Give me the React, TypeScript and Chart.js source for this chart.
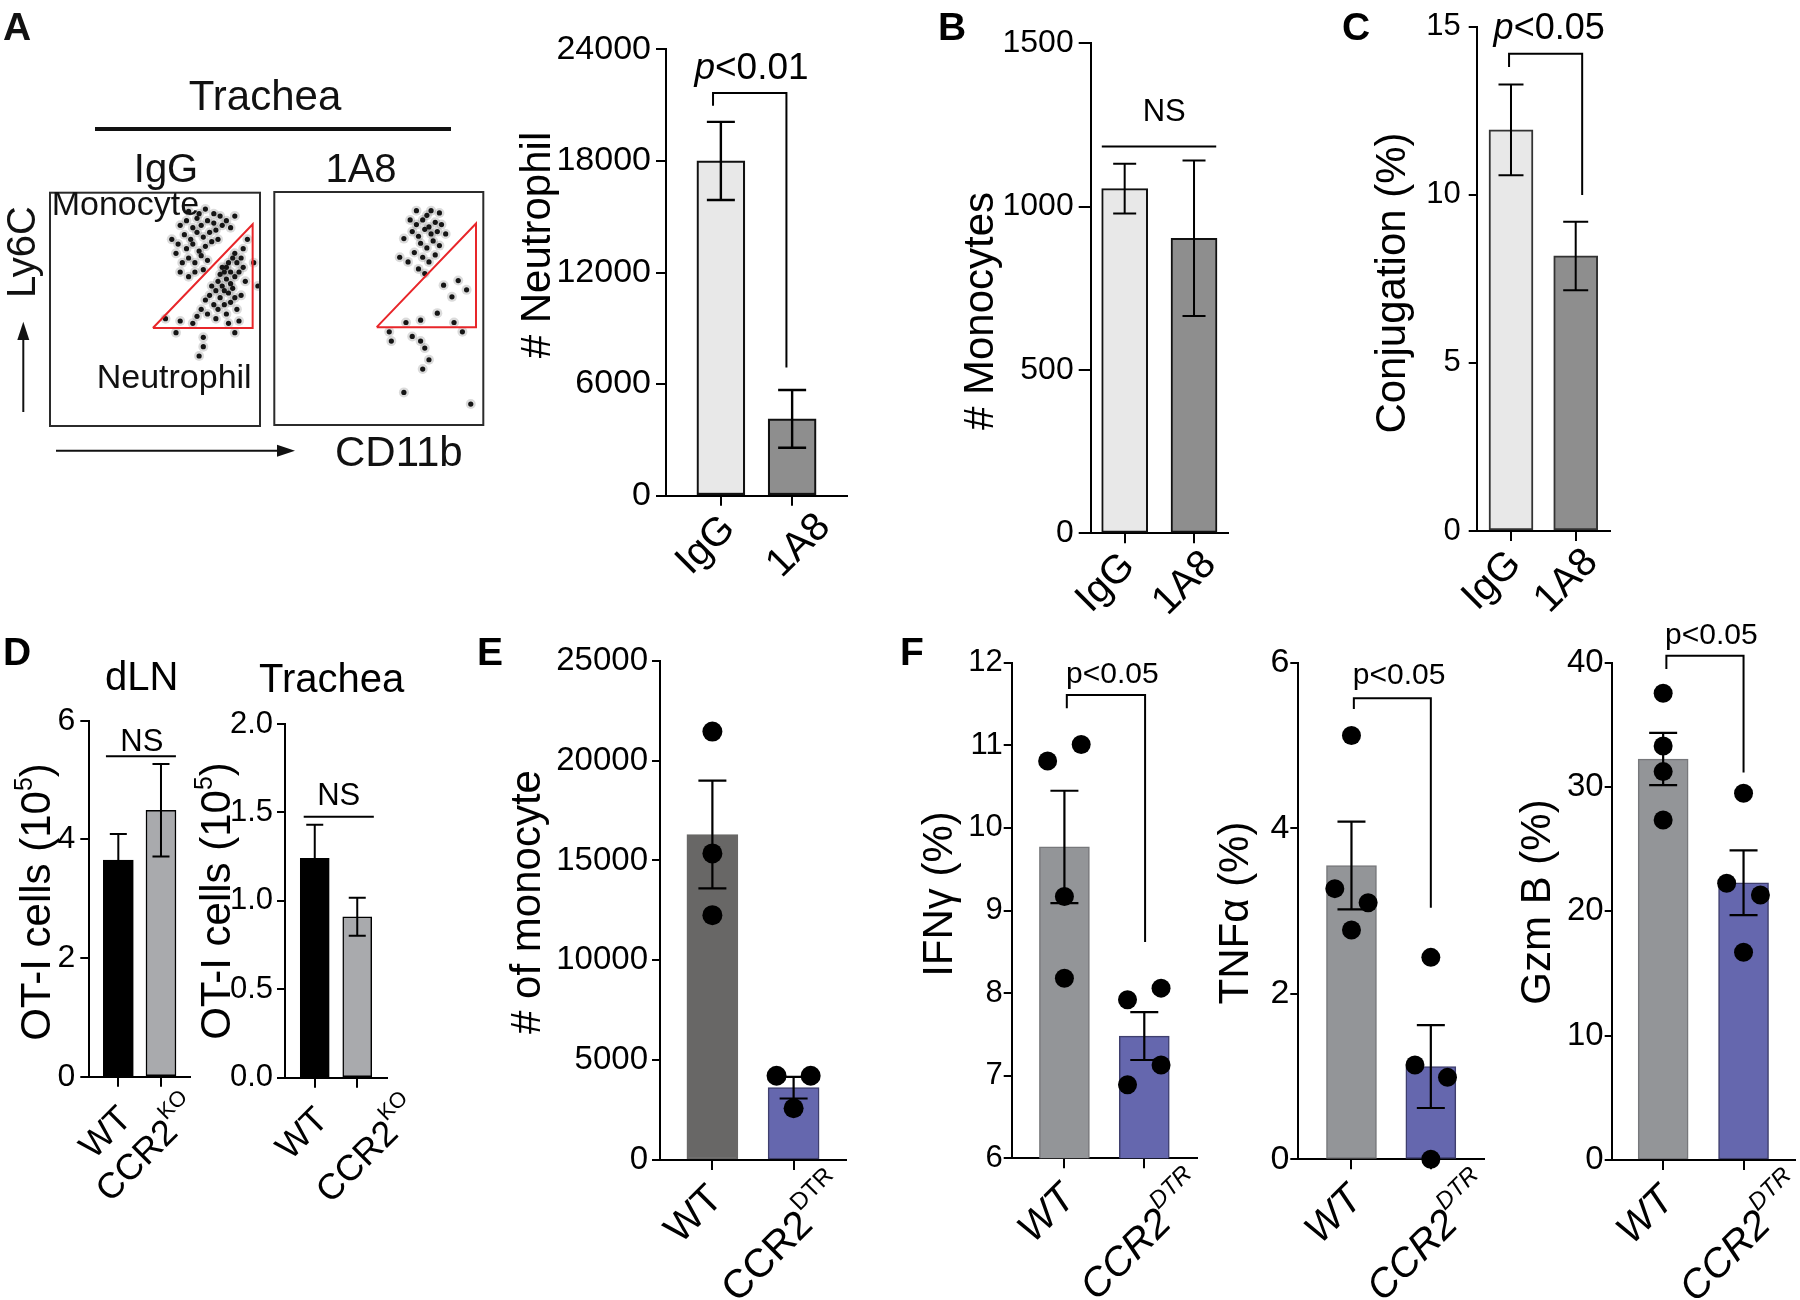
import React, { useEffect, useRef } from 'react';
import { Chart, registerables } from 'chart.js';

Chart.register(...registerables);

const FONT = '"Liberation Sans", Arial, Helvetica, sans-serif';
const W = 1800;
const H = 1300;

// ---------------- DATA ----------------
// Panel A – flow plots (CD11b vs Ly6C, arbitrary 0-100 units)
const gateX = [49, 96.5, 96.5, 49];
const gateY = [42, 86.5, 42, 42];
const iggDotX = [62, 65, 68, 70, 72, 75, 78, 64, 67, 70, 73, 76, 79, 82, 61, 65, 68, 71, 74, 77, 80, 66, 69, 72, 75, 63, 60, 58, 84, 86, 88, 71, 66, 74, 78, 81, 69, 73, 62, 66,
  80, 82, 84, 86, 83, 85, 87, 81, 79, 88, 90, 86, 84, 89, 91, 92, 78, 80, 83, 86, 88, 76, 74, 72, 70, 75, 79, 84, 89, 91, 93, 68, 62, 85, 90, 77, 81, 87, 92, 94, 83, 85, 88, 82,
  73, 73, 71, 88, 60, 55, 97, 99];
const iggDotY = [86, 88, 85, 89, 86, 88, 87, 82, 80, 83, 81, 83, 84, 86, 78, 76, 78, 75, 77, 79, 80, 72, 70, 73, 71, 70, 74, 80, 88, 85, 90, 91, 92, 93, 91, 90, 66, 67, 66, 64,
  62, 60, 63, 61, 58, 57, 59, 55, 58, 64, 66, 66, 68, 70, 72, 68, 52, 50, 52, 53, 55, 56, 54, 50, 47, 48, 46, 48, 50, 56, 62, 44, 45, 44, 45, 60, 65, 72, 76, 80, 66, 70, 74, 68,
  38, 34, 30, 40, 40, 46, 70, 60];
const a18DotX = [65, 68, 71, 74, 77, 80, 66, 69, 72, 75, 78, 70, 73, 76, 79, 67, 71, 74, 77, 69, 72, 62, 60, 64, 82, 75, 79, 68, 73,
  81, 88, 85, 78, 92, 70, 63, 70, 72, 74, 71, 66, 62, 94, 55, 56, 86, 90];
const a18DotY = [88, 86, 88, 85, 87, 86, 83, 81, 84, 82, 83, 78, 76, 79, 77, 74, 72, 70, 73, 67, 65, 80, 72, 70, 82, 92, 91, 92, 90,
  60, 62, 55, 48, 58, 45, 44, 36, 33, 28, 24, 38, 14, 9, 40, 36, 44, 40];

// Panel A – neutrophil counts
const treatGroups = ['IgG', '1A8'];
const neutrophilMean = [18000, 4130];
const neutrophilSem = [2100, 1550];
const neutrophilTicks = [0, 6000, 12000, 18000, 24000];

// Panel B – monocytes
const monocyteMean = [1055, 903];
const monocyteSem = [76, 238];
const monocyteTicks = [0, 500, 1000, 1500];

// Panel C – conjugation
const conjugationMean = [11.93, 8.18];
const conjugationSem = [1.35, 1.02];
const conjugationTicks = [0, 5, 10, 15];

// Panel D – OT-I cells
const koGroups = ['WT', 'CCR2'];
const koSups = ['', 'KO'];
const otDlnMean = [3.65, 4.49];
const otDlnSem = [0.44, 0.78];
const otDlnTicks = [0, 2, 4, 6];
const otTracheaMean = [1.24, 0.91];
const otTracheaSem = [0.19, 0.108];
const otTracheaTicks = [0, 0.5, 1, 1.5, 2];

// Panel E – monocytes
const dtrGroups = ['WT', 'CCR2'];
const dtrSups = ['', 'DTR'];
const monoEMean = [16300, 3620];
const monoESem = [2700, 540];
const monoEWt = [21450, 15350, 12260];
const monoEDtr = [4220, 4220, 2590];
const monoEWtJitter = [0, 0, 0];
const monoEDtrJitter = [-0.21, 0.21, 0];
const monoETicks = [0, 5000, 10000, 15000, 20000, 25000];

// Panel F – IFNγ, TNFα, Gzm B
const ifnMean = [9.77, 7.48];
const ifnSem = [0.68, 0.29];
const ifnWt = [10.81, 11.01, 9.17, 8.18];
const ifnDtr = [7.92, 8.06, 7.13, 6.89];
const ifnWtJitter = [-0.21, 0.21, 0, 0];
const ifnDtrJitter = [-0.21, 0.21, 0.21, -0.21];
const ifnTicks = [6, 7, 8, 9, 10, 11, 12];

const tnfMean = [3.55, 1.12];
const tnfSem = [0.53, 0.5];
const tnfWt = [5.12, 3.27, 3.1, 2.77];
const tnfDtr = [2.44, 1.14, 0.99, 0];
const tnfWtJitter = [0, -0.21, 0.21, 0];
const tnfDtrJitter = [0, -0.2, 0.21, 0];
const tnfTicks = [0, 2, 4, 6];

const gzmMean = [32.25, 22.3];
const gzmSem = [2.1, 2.6];
const gzmWt = [37.55, 33.3, 31.24, 27.35];
const gzmDtr = [29.5, 22.26, 21.32, 16.71];
const gzmWtJitter = [0, 0, 0, 0];
const gzmDtrJitter = [0, -0.21, 0.21, 0];
const gzmTicks = [0, 10, 20, 30, 40];

// ---------------- helpers ----------------
type Piece = { t: string; italic?: boolean; sup?: boolean };

function fontOf(p: Piece, size: number, weight: string) {
  const s = p.sup ? Math.round(size * 0.6) : size;
  return `${p.italic ? 'italic ' : ''}${weight} ${s}px ${FONT}`;
}

function drawPieces(ctx: CanvasRenderingContext2D, pieces: Piece[], size: number, x: number, y: number,
  align = 'center', weight = 'normal', baseline: CanvasTextBaseline = 'alphabetic') {
  const widths = pieces.map((p) => { ctx.font = fontOf(p, size, weight); return ctx.measureText(p.t).width; });
  const total = widths.reduce((a, b) => a + b, 0);
  let cx = align === 'left' ? x : align === 'right' ? x - total : x - total / 2;
  ctx.textAlign = 'left';
  ctx.textBaseline = baseline;
  pieces.forEach((p, i) => {
    ctx.font = fontOf(p, size, weight);
    ctx.fillText(p.t, cx, y + (p.sup ? -size * 0.42 : 0));
    cx += widths[i];
  });
}

const letter = (t: string, x: number, y: number) => ({ pieces: [{ t }], x, y, size: 39, weight: 'bold', align: 'left' });
const ptxt = (t: string, italicP: boolean): Piece[] => italicP ? [{ t: 'p', italic: true }, { t: t.slice(1) }] : [{ t }];
const otTitle: Piece[] = [{ t: 'OT-I cells (10' }, { t: '5', sup: true }, { t: ')' }];

// ---------------- panel configs (layout/style) ----------------
const GREY_L = '#e8e8e8';
const GREY_D = '#8e8e8e';
const PURPLE = '#6567ae';

const panels: any[] = [
  {
    key: 'A', area: { left: 666, right: 847, top: 49.3, bottom: 495.7 }, gap: 0.77,
    yTicks: neutrophilTicks, dec: 0, tickFont: 34, tickLen: 10, tickPad: 5,
    labels: treatGroups, sups: ['', ''], italic: false, labelFont: 40, labelDx: [8, 32], labelDy: [27, 25],
    mean: neutrophilMean, sem: neutrophilSem, barColors: [GREY_L, GREY_D], barBorders: ['#111', '#111'], barBorderWidth: 2.2,
    barWidth: 48, capWidth: 28, errWidth: 2.4,
    yTitle: { pieces: [{ t: '# Neutrophil' }], x: 550, y: 245, size: 42 },
    ann: { kind: 'bracket', x0: -0.11, x1: 0.92, y: 21650, y0: 20970, y1: 6890, text: ptxt('p<0.01', true), tx: 0.43, ty: 22420, size: 37 },
    texts: [],
  },
  {
    key: 'B', area: { left: 1090.7, right: 1228, top: 43.3, bottom: 533.3 }, gap: 0.49,
    yTicks: monocyteTicks, dec: 0, tickFont: 32, tickLen: 12, tickPad: 5,
    labels: treatGroups, sups: ['', ''], italic: false, labelFont: 40, labelDx: [4, 16], labelDy: [27, 25],
    mean: monocyteMean, sem: monocyteSem, barColors: [GREY_L, GREY_D], barBorders: ['#111', '#111'], barBorderWidth: 2,
    barWidth: 46, capWidth: 23, errWidth: 2,
    yTitle: { pieces: [{ t: '# Monocytes' }], x: 993, y: 311, size: 42 },
    ann: { kind: 'line', x0: -0.33, x1: 1.32, y: 1184, text: [{ t: 'NS' }], tx: 0.57, ty: 1263, size: 31 },
    texts: [letter('B', 938, 40)],
  },
  {
    key: 'C', area: { left: 1476.7, right: 1610, top: 15.7, bottom: 531 }, gap: 0.53,
    yTicks: conjugationTicks, dec: 0, tickFont: 31, tickLen: 8, tickPad: 8,
    labels: treatGroups, sups: ['', ''], italic: false, labelFont: 40, labelDx: [4, 16], labelDy: [27, 25],
    mean: conjugationMean, sem: conjugationSem, barColors: [GREY_L, GREY_D], barBorders: ['#333', '#333'], barBorderWidth: 2,
    barWidth: 44, capWidth: 25, errWidth: 2,
    yTitle: { pieces: [{ t: 'Conjugation (%)' }], x: 1405, y: 283, size: 42 },
    ann: { kind: 'bracket', x0: -0.03, x1: 1.1, y: 14.19, y0: 13.8, y1: 9.99, text: ptxt('p<0.05', true), tx: 0.59, ty: 14.63, size: 36 },
    texts: [letter('C', 1342, 40)],
  },
  {
    key: 'Ddln', area: { left: 89.3, right: 190, top: 720.7, bottom: 1076.7 }, gap: 0.68,
    yTicks: otDlnTicks, dec: 0, tickFont: 32, tickLen: 9, tickPad: 5,
    labels: koGroups, sups: koSups, italic: false, labelFont: 36, labelDx: [8, 34], labelDy: [37, 28],
    mean: otDlnMean, sem: otDlnSem, barColors: ['#000', '#a9aaad'], barBorders: ['#000', '#000'], barBorderWidth: 1.5,
    barWidth: 30, capWidth: 17, errWidth: 2,
    yTitle: { pieces: otTitle, x: 50, y: 902, size: 42 },
    ann: { kind: 'line', x0: -0.29, x1: 1.35, y: 5.4, text: [{ t: 'NS' }], tx: 0.55, ty: 5.49, size: 31 },
    texts: [letter('D', 3, 665), { pieces: [{ t: 'dLN' }], x: 141.7, y: 690, size: 40, weight: 'normal', align: 'center' }],
  },
  {
    key: 'Dtr', area: { left: 285, right: 387, top: 724, bottom: 1077.7 }, gap: 0.7,
    yTicks: otTracheaTicks, dec: 1, tickFont: 31, tickLen: 8, tickPad: 4,
    labels: koGroups, sups: koSups, italic: false, labelFont: 36, labelDx: [8, 58], labelDy: [37, 28],
    mean: otTracheaMean, sem: otTracheaSem, barColors: ['#000', '#a9aaad'], barBorders: ['#000', '#000'], barBorderWidth: 1.5,
    barWidth: 29, capWidth: 17, errWidth: 2,
    yTitle: { pieces: otTitle, x: 230, y: 901, size: 42 },
    ann: { kind: 'line', x0: -0.26, x1: 1.39, y: 1.476, text: [{ t: 'NS' }], tx: 0.565, ty: 1.542, size: 31 },
    texts: [{ pieces: [{ t: 'Trachea' }], x: 331.7, y: 691.7, size: 40, weight: 'normal', align: 'center' }],
  },
  {
    key: 'E', area: { left: 660, right: 846, top: 660.7, bottom: 1160 }, gap: 0.645,
    yTicks: monoETicks, dec: 0, tickFont: 33, tickLen: 8, tickPad: 4,
    labels: dtrGroups, sups: dtrSups, italic: false, labelFont: 40, labelDx: [4, 48], labelDy: [33, 24],
    mean: monoEMean, sem: monoESem, barColors: ['#686766', PURPLE], barBorders: ['#686766', '#3f3f6e'], barBorderWidth: 1.5,
    barWidth: 51, capWidth: 28, errWidth: 2.2,
    dots: [monoEWt, monoEDtr], jitter: [monoEWtJitter, monoEDtrJitter], dotRadius: 10,
    yTitle: { pieces: [{ t: '# of monocyte' }], x: 540, y: 902, size: 42 },
    ann: null,
    texts: [letter('E', 477, 665)],
  },
  {
    key: 'Fifn', area: { left: 1011.7, right: 1197, top: 662.7, bottom: 1158.3 }, gap: 0.66,
    yTicks: ifnTicks, dec: 0, tickFont: 31, tickLen: 8, tickPad: 1,
    labels: dtrGroups, sups: dtrSups, italic: true, labelFont: 40, labelDx: [5, 56], labelDy: [34, 24],
    mean: ifnMean, sem: ifnSem, barColors: ['#939598', PURPLE], barBorders: ['#77787b', '#3f3f6e'], barBorderWidth: 1.5,
    barWidth: 50, capWidth: 28, errWidth: 2.2,
    dots: [ifnWt, ifnDtr], jitter: [ifnWtJitter, ifnDtrJitter], dotRadius: 9.5,
    yTitle: { pieces: [{ t: 'IFNγ (%)' }], x: 952, y: 894, size: 42 },
    ann: { kind: 'bracket', x0: 0.03, x1: 1.01, y: 11.61, y0: 11.45, y1: 8.62, text: ptxt('p<0.05', false), tx: 0.6, ty: 11.75, size: 30 },
    texts: [letter('F', 900, 665)],
  },
  {
    key: 'Ftnf', area: { left: 1298.3, right: 1484, top: 662.7, bottom: 1159.3 }, gap: 0.67,
    yTicks: tnfTicks, dec: 0, tickFont: 34, tickLen: 8, tickPad: 1,
    labels: dtrGroups, sups: dtrSups, italic: true, labelFont: 40, labelDx: [5, 56], labelDy: [34, 24],
    mean: tnfMean, sem: tnfSem, barColors: ['#939598', PURPLE], barBorders: ['#77787b', '#3f3f6e'], barBorderWidth: 1.5,
    barWidth: 50, capWidth: 28, errWidth: 2.2,
    dots: [tnfWt, tnfDtr], jitter: [tnfWtJitter, tnfDtrJitter], dotRadius: 9.5,
    yTitle: { pieces: [{ t: 'TNFα (%)' }], x: 1248, y: 913, size: 42 },
    ann: { kind: 'bracket', x0: 0.03, x1: 1.0, y: 5.57, y0: 5.44, y1: 3.04, text: ptxt('p<0.05', false), tx: 0.6, ty: 5.74, size: 30 },
    texts: [],
  },
  {
    key: 'Fgzm', area: { left: 1611.7, right: 1795, top: 662.7, bottom: 1160 }, gap: 0.64,
    yTicks: gzmTicks, dec: 0, tickFont: 33, tickLen: 7, tickPad: 1,
    labels: dtrGroups, sups: dtrSups, italic: true, labelFont: 40, labelDx: [5, 56], labelDy: [34, 24],
    mean: gzmMean, sem: gzmSem, barColors: ['#939598', PURPLE], barBorders: ['#77787b', '#3f3f6e'], barBorderWidth: 1.5,
    barWidth: 50, capWidth: 28, errWidth: 2.2,
    dots: [gzmWt, gzmDtr], jitter: [gzmWtJitter, gzmDtrJitter], dotRadius: 9.5,
    yTitle: { pieces: [{ t: 'Gzm B (%)' }], x: 1550, y: 902, size: 42 },
    ann: { kind: 'bracket', x0: 0.04, x1: 1.0, y: 40.55, y0: 39.5, y1: 31.16, text: ptxt('p<0.05', false), tx: 0.6, ty: 41.5, size: 30 },
    texts: [],
  },
];

// ---------------- builders ----------------
function buildBarPanel(p: any) {
  return (canvas: HTMLCanvasElement) => {
    const datasets: any[] = [{
      type: 'bar',
      data: p.mean.map((v: number, i: number) => ({ x: i, y: v })),
      backgroundColor: p.barColors,
      borderColor: p.barBorders,
      borderWidth: p.barBorderWidth,
      borderSkipped: false,
      barThickness: p.barWidth,
      order: 1,
    }];
    if (p.dots) {
      const pts: any[] = [];
      p.dots.forEach((vals: number[], g: number) => vals.forEach((v: number, k: number) => pts.push({ x: g + p.jitter[g][k], y: v })));
      datasets.push({
        type: 'scatter', data: pts, pointRadius: p.dotRadius, pointHoverRadius: p.dotRadius,
        backgroundColor: '#000', borderColor: '#000', borderWidth: 0, clip: false, order: 0,
      });
    }
    const { left, right, top, bottom } = p.area;
    const yW = Math.min(140, left - 2);
    const yTicks: number[] = p.yTicks;
    const deco = {
      id: 'deco',
      afterDatasetDraw(chart: any, args: any) {
        if (args.meta.type !== 'bar') return;
        const ctx = chart.ctx; const xs = chart.scales.x; const ys = chart.scales.y;
        ctx.save();
        ctx.strokeStyle = '#000';
        ctx.lineWidth = p.errWidth;
        p.mean.forEach((m: number, i: number) => {
          const px = xs.getPixelForValue(i);
          const t = ys.getPixelForValue(m + p.sem[i]);
          const b = ys.getPixelForValue(m - p.sem[i]);
          const hw = p.capWidth / 2;
          ctx.beginPath();
          ctx.moveTo(px, t); ctx.lineTo(px, b);
          ctx.moveTo(px - hw, t); ctx.lineTo(px + hw, t);
          ctx.moveTo(px - hw, b); ctx.lineTo(px + hw, b);
          ctx.stroke();
        });
        ctx.restore();
      },
      afterDraw(chart: any) {
        const ctx: CanvasRenderingContext2D = chart.ctx; const xs = chart.scales.x; const ys = chart.scales.y;
        const area = chart.chartArea;
        ctx.save();
        ctx.fillStyle = '#000';
        ctx.strokeStyle = '#000';
        // x category labels (rotated 45°)
        p.labels.forEach((lab: string, i: number) => {
          const px = xs.getPixelForValue(i);
          const pieces: Piece[] = [{ t: lab, italic: p.italic }];
          if (p.sups[i]) pieces.push({ t: p.sups[i], italic: p.italic, sup: true });
          ctx.save();
          ctx.translate(px + p.labelDx[i], area.bottom + p.labelDy[i]);
          ctx.rotate(-Math.PI / 4);
          drawPieces(ctx, pieces, p.labelFont, 0, 0, 'right', 'normal', 'middle');
          ctx.restore();
        });
        // y title
        ctx.save();
        ctx.translate(p.yTitle.x, p.yTitle.y);
        ctx.rotate(-Math.PI / 2);
        drawPieces(ctx, p.yTitle.pieces, p.yTitle.size, 0, 0, 'center');
        ctx.restore();
        // significance annotation
        const a = p.ann;
        if (a) {
          ctx.lineWidth = 2;
          const yb = ys.getPixelForValue(a.y);
          const x0 = xs.getPixelForValue(a.x0);
          const x1 = xs.getPixelForValue(a.x1);
          ctx.beginPath();
          if (a.kind === 'bracket') {
            ctx.moveTo(x0, ys.getPixelForValue(a.y0));
            ctx.lineTo(x0, yb);
            ctx.lineTo(x1, yb);
            ctx.lineTo(x1, ys.getPixelForValue(a.y1));
          } else {
            ctx.moveTo(x0, yb);
            ctx.lineTo(x1, yb);
          }
          ctx.stroke();
          drawPieces(ctx, a.text, a.size, xs.getPixelForValue(a.tx), ys.getPixelForValue(a.ty), 'center');
        }
        // panel texts
        p.texts.forEach((t: any) => drawPieces(ctx, t.pieces, t.size, t.x, t.y, t.align, t.weight));
        ctx.restore();
      },
    };
    return new Chart(canvas, {
      type: 'bar',
      data: { datasets },
      options: {
        responsive: false,
        animation: false,
        devicePixelRatio: 1,
        events: [],
        layout: { autoPadding: false, padding: { left: left - yW, right: W - right, top, bottom: H - bottom - 10 } },
        plugins: { legend: { display: false }, tooltip: { enabled: false }, title: { display: false } },
        scales: {
          x: {
            type: 'linear', offset: false, min: -p.gap, max: 1 + p.gap,
            afterBuildTicks: (s: any) => { s.ticks = p.labels.map((_: string, i: number) => ({ value: i })); },
            afterFit: (s: any) => { s.height = 10; },
            grid: { offset: false, drawOnChartArea: false, drawTicks: true, tickLength: 10, color: '#000', lineWidth: 2 },
            border: { display: true, color: '#000', width: 2 },
            ticks: { display: false },
          },
          y: {
            type: 'linear', min: yTicks[0], max: yTicks[yTicks.length - 1], beginAtZero: false,
            afterBuildTicks: (s: any) => { s.ticks = yTicks.map((v) => ({ value: v })); },
            afterFit: (s: any) => { s.width = yW; },
            grid: { drawOnChartArea: false, drawTicks: true, tickLength: p.tickLen, color: '#000', lineWidth: 2 },
            border: { display: true, color: '#000', width: 2 },
            ticks: {
              autoSkip: false, color: '#000', padding: p.tickPad,
              font: { family: FONT, size: p.tickFont },
              callback: (v: any) => Number(v).toFixed(p.dec),
            },
          },
        },
      } as any,
      plugins: [deco],
    } as any);
  };
}

function drawFlowHeader(ctx: CanvasRenderingContext2D) {
  ctx.fillStyle = '#111';
  ctx.strokeStyle = '#111';
  drawPieces(ctx, [{ t: 'A' }], 39, 3, 40, 'left', 'bold');
  drawPieces(ctx, [{ t: 'Trachea' }], 42, 265, 110, 'center');
  ctx.lineWidth = 4;
  ctx.beginPath(); ctx.moveTo(95, 129); ctx.lineTo(451, 129); ctx.stroke();
  drawPieces(ctx, [{ t: 'IgG' }], 40, 166, 181.7, 'center');
  drawPieces(ctx, [{ t: '1A8' }], 40, 361, 181.7, 'center');
  drawPieces(ctx, [{ t: 'Monocyte' }], 34, 51.7, 215, 'left');
  drawPieces(ctx, [{ t: 'Neutrophil' }], 34, 96.7, 388.3, 'left');
  drawPieces(ctx, [{ t: 'CD11b' }], 42, 335, 466, 'left');
  ctx.save();
  ctx.translate(35, 252);
  ctx.rotate(-Math.PI / 2);
  drawPieces(ctx, [{ t: 'Ly6C' }], 40, 0, 0, 'center');
  ctx.restore();
  // arrows
  ctx.lineWidth = 2;
  ctx.beginPath(); ctx.moveTo(23.3, 412); ctx.lineTo(23.3, 336); ctx.stroke();
  ctx.beginPath(); ctx.moveTo(23.3, 321.7); ctx.lineTo(17.3, 340); ctx.lineTo(29.3, 340); ctx.closePath(); ctx.fill();
  ctx.beginPath(); ctx.moveTo(56, 450.7); ctx.lineTo(280, 450.7); ctx.stroke();
  ctx.beginPath(); ctx.moveTo(295, 450.7); ctx.lineTo(277, 444.7); ctx.lineTo(277, 456.7); ctx.closePath(); ctx.fill();
}

function buildFlow(f: any) {
  return (canvas: HTMLCanvasElement) => {
    const dots = f.xs.map((x: number, i: number) => ({ x, y: f.ys[i] }));
    const gate = gateX.map((x, i) => ({ x, y: gateY[i] }));
    const deco = {
      id: 'flowdeco',
      afterDraw(chart: any) {
        const ctx: CanvasRenderingContext2D = chart.ctx;
        const { left, top, right, bottom } = chart.chartArea;
        ctx.save();
        ctx.strokeStyle = '#2b2b2b';
        ctx.lineWidth = 2;
        ctx.strokeRect(left, top, right - left, bottom - top);
        if (f.header) drawFlowHeader(ctx);
        ctx.restore();
      },
    };
    return new Chart(canvas, {
      type: 'scatter',
      data: {
        datasets: [
          { data: dots, pointRadius: 5, backgroundColor: 'rgba(0,0,0,0.14)', borderWidth: 0, order: 3 },
          { data: dots, pointRadius: 2.6, backgroundColor: '#151515', borderWidth: 0, order: 2 },
          { data: gate, showLine: true, borderColor: '#e8262a', borderWidth: 2, pointRadius: 0, fill: false, order: 1 },
        ],
      },
      options: {
        responsive: false,
        animation: false,
        devicePixelRatio: 1,
        events: [],
        layout: { autoPadding: false, padding: { left: f.left, right: W - f.right, top: f.top, bottom: H - f.bottom } },
        plugins: { legend: { display: false }, tooltip: { enabled: false } },
        scales: {
          x: { type: 'linear', min: 0, max: 100, display: false },
          y: { type: 'linear', min: 0, max: 100, display: false },
        },
      } as any,
      plugins: [deco],
    } as any);
  };
}

const flowIgG = { xs: iggDotX, ys: iggDotY, left: 50, right: 260, top: 192.7, bottom: 426, header: true };
const flow1A8 = { xs: a18DotX, ys: a18DotY, left: 274.3, right: 483.3, top: 192, bottom: 425, header: false };

function ChartCanvas({ build }: { build: (c: HTMLCanvasElement) => Chart }) {
  const ref = useRef<HTMLCanvasElement>(null);
  useEffect(() => {
    const chart = build(ref.current as HTMLCanvasElement);
    return () => chart.destroy();
  }, []);
  return (
    <canvas ref={ref} width={W} height={H}
      style={{ position: 'absolute', left: 0, top: 0, width: W, height: H, pointerEvents: 'none' }} />
  );
}

export default function App() {
  return (
    <div style={{ position: 'fixed', left: 0, top: 0, width: W, height: H, background: '#fff', overflow: 'hidden' }}>
      <ChartCanvas build={buildFlow(flowIgG)} />
      <ChartCanvas build={buildFlow(flow1A8)} />
      {panels.map((p) => <ChartCanvas key={p.key} build={buildBarPanel(p)} />)}
    </div>
  );
}
